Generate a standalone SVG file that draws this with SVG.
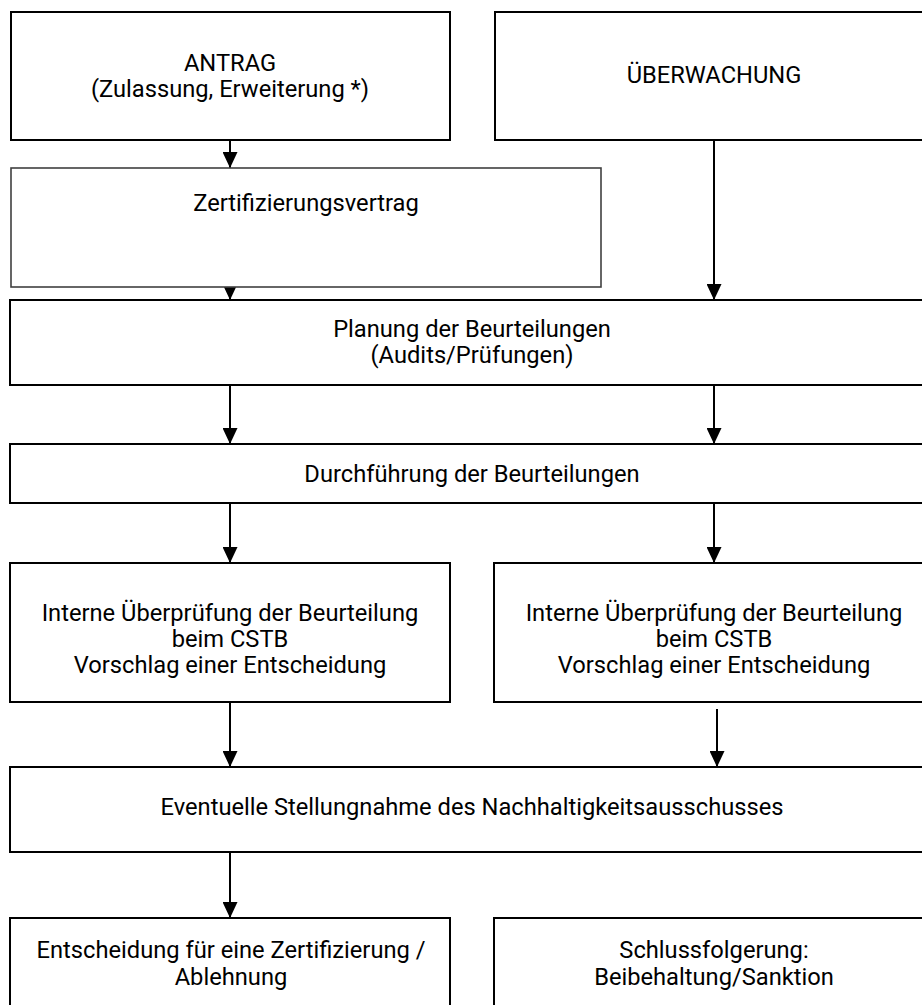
<svg xmlns="http://www.w3.org/2000/svg" width="922" height="1005" viewBox="0 0 922 1005">
<style>
.box{fill:#fff;stroke:#000;stroke-width:2}
.gray{stroke:#404040;stroke-width:1.6}
.t{font-family:Roboto,"Liberation Sans",sans-serif;font-size:23.7px;fill:#000;text-anchor:middle}
.c{stroke:#000;stroke-width:2;fill:none;marker-end:url(#ah)}
</style>
<defs>
<marker id="ah" viewBox="0 0 16 15" markerWidth="16" markerHeight="15" refX="16" refY="7.5" orient="auto" markerUnits="userSpaceOnUse">
<path d="M0,0 L16,7.5 L0,15 Z" fill="#000"/>
</marker>
</defs>
<rect width="922" height="1005" fill="#fff"/>
<g id="connectors">
<line class="c" x1="230" y1="140" x2="230" y2="168"/>
<line class="c" x1="714" y1="140" x2="714" y2="300"/>
<line class="c" x1="230" y1="287" x2="230" y2="300"/>
<line class="c" x1="230" y1="385" x2="230" y2="444"/>
<line class="c" x1="714" y1="385" x2="714" y2="444"/>
<line class="c" x1="230" y1="503" x2="230" y2="563"/>
<line class="c" x1="714" y1="503" x2="714" y2="563"/>
<line class="c" x1="230" y1="702" x2="230" y2="767"/>
<line class="c" x1="717" y1="709" x2="717" y2="767"/>
<line class="c" x1="230" y1="852" x2="230" y2="918"/>
</g>
<g id="antrag">
<rect class="box" x="11" y="12" width="439" height="128"/>
<text class="t" x="230" y="71">ANTRAG</text>
<text class="t" x="230" y="97">(Zulassung, Erweiterung *)</text>
</g>
<g id="ueberwachung">
<rect class="box" x="495" y="12" width="440" height="128"/>
<text class="t" x="714" y="83">ÜBERWACHUNG</text>
</g>
<g id="vertrag">
<rect class="box gray" x="11" y="168" width="590" height="119"/>
<text class="t" x="306" y="211">Zertifizierungsvertrag</text>
</g>
<g id="planung">
<rect class="box" x="10" y="300" width="925" height="85"/>
<text class="t" x="472" y="337">Planung der Beurteilungen</text>
<text class="t" x="472" y="363">(Audits/Prüfungen)</text>
</g>
<g id="durchfuehrung">
<rect class="box" x="10" y="444" width="925" height="59"/>
<text class="t" x="472" y="482">Durchführung der Beurteilungen</text>
</g>
<g id="intern-links">
<rect class="box" x="10" y="563" width="440" height="139"/>
<text class="t" x="230" y="621">Interne Überprüfung der Beurteilung</text>
<text class="t" x="230" y="647">beim CSTB</text>
<text class="t" x="230" y="673">Vorschlag einer Entscheidung</text>
</g>
<g id="intern-rechts">
<rect class="box" x="494" y="563" width="441" height="139"/>
<text class="t" x="714" y="621">Interne Überprüfung der Beurteilung</text>
<text class="t" x="714" y="647">beim CSTB</text>
<text class="t" x="714" y="673">Vorschlag einer Entscheidung</text>
</g>
<g id="stellungnahme">
<rect class="box" x="10" y="767" width="925" height="85"/>
<text class="t" x="472" y="815">Eventuelle Stellungnahme des Nachhaltigkeitsausschusses</text>
</g>
<g id="entscheidung">
<rect class="box" x="10" y="918" width="440" height="100"/>
<text class="t" x="231" y="958">Entscheidung für eine Zertifizierung /</text>
<text class="t" x="231" y="985">Ablehnung</text>
</g>
<g id="schluss">
<rect class="box" x="494" y="918" width="441" height="100"/>
<text class="t" x="714" y="958">Schlussfolgerung:</text>
<text class="t" x="714" y="985">Beibehaltung/Sanktion</text>
</g>
</svg>
